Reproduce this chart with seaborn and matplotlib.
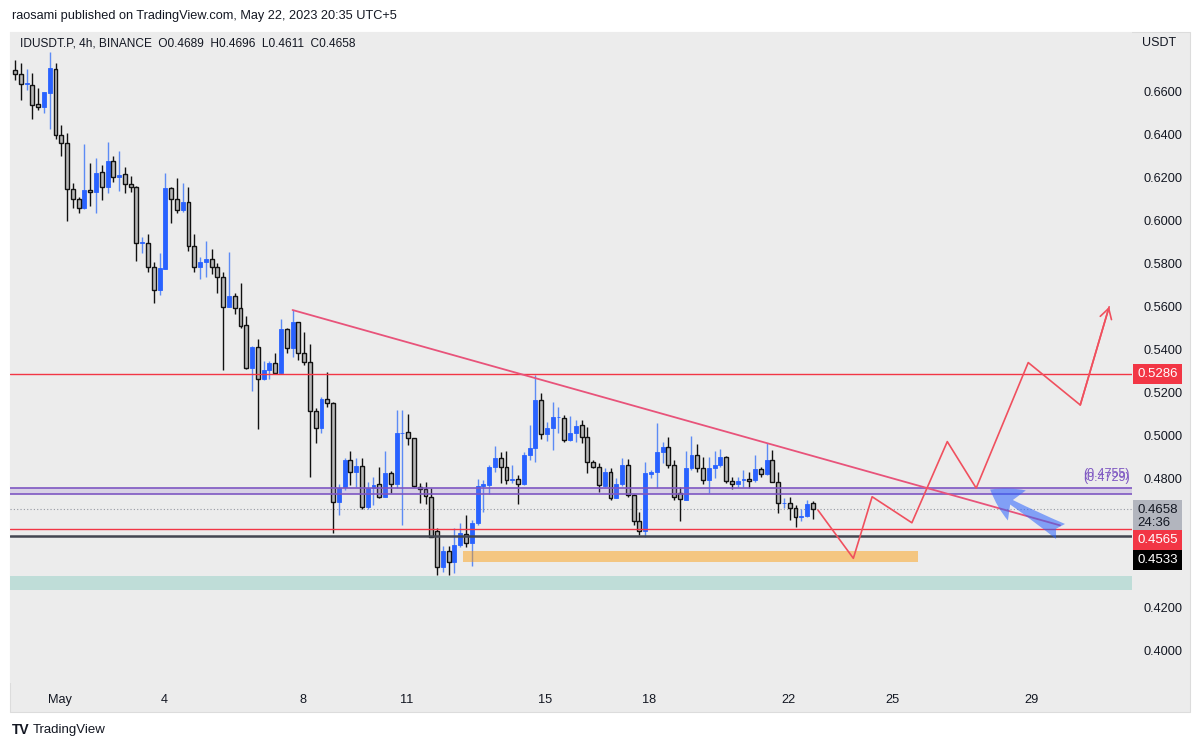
import numpy as np
import pandas as pd
import matplotlib
matplotlib.use("Agg")
import matplotlib.pyplot as plt
import matplotlib.dates as mdates
import matplotlib.transforms as mtrans
from matplotlib.patches import FancyArrowPatch, Rectangle
import seaborn as sns

# ── IDUSDT.P 4h candles ──
LAST_BAR = "2023-05-22 17:00"

OPEN = [0.6697, 0.6677, 0.6631, 0.6628, 0.6538, 0.6527, 0.6589, 0.6702, 0.6396, 0.6357,
        0.6144, 0.6097, 0.6055, 0.6140, 0.6131, 0.6224, 0.6156, 0.6275, 0.6202, 0.6213,
        0.6167, 0.6156, 0.5894, 0.5896, 0.5784, 0.5676, 0.5773, 0.6148, 0.6097, 0.6047,
        0.6083, 0.5882, 0.5784, 0.5805, 0.5821, 0.5784, 0.5738, 0.5598, 0.5648, 0.5591,
        0.5513, 0.5312, 0.5410, 0.5262, 0.5305, 0.5336, 0.5289, 0.5493, 0.5405, 0.5526,
        0.5385, 0.5343, 0.5116, 0.5037, 0.5170, 0.5150, 0.4693, 0.4760, 0.4887, 0.4830,
        0.4859, 0.4670, 0.4755, 0.4774, 0.4716, 0.4825, 0.4774, 0.5011, 0.5015, 0.4987,
        0.4763, 0.4751, 0.4716, 0.4559, 0.4391, 0.4465, 0.4414, 0.4492, 0.4542, 0.4500,
        0.4593, 0.4766, 0.4771, 0.4856, 0.4895, 0.4856, 0.4794, 0.4797, 0.4775, 0.4910,
        0.4941, 0.5165, 0.5007, 0.5037, 0.5084, 0.5080, 0.4980, 0.5014, 0.5049, 0.4995,
        0.4879, 0.4856, 0.4767, 0.4830, 0.4709, 0.4774, 0.4863, 0.4724, 0.4603, 0.4558,
        0.4820, 0.4830, 0.4925, 0.4949, 0.4863, 0.4732, 0.4701, 0.4851, 0.4910, 0.4851,
        0.4794, 0.4851, 0.4863, 0.4899, 0.4790, 0.4774, 0.4792, 0.4797, 0.4794, 0.4843,
        0.4820, 0.4887, 0.4786, 0.4686, 0.4689, 0.4665, 0.4621, 0.4626, 0.4689]
HIGH = [0.6745, 0.6731, 0.6702, 0.6685, 0.6614, 0.6596, 0.6780, 0.6731, 0.6442, 0.6406,
        0.6171, 0.6109, 0.6353, 0.6266, 0.6288, 0.6256, 0.6365, 0.6298, 0.6321, 0.6248,
        0.6205, 0.6160, 0.5924, 0.5935, 0.5807, 0.5849, 0.6218, 0.6156, 0.6196, 0.6173,
        0.6156, 0.5936, 0.5831, 0.5904, 0.5865, 0.5800, 0.5761, 0.5854, 0.5664, 0.5707,
        0.5555, 0.5416, 0.5449, 0.5346, 0.5346, 0.5382, 0.5543, 0.5498, 0.5583, 0.5528,
        0.5480, 0.5425, 0.5127, 0.5181, 0.5294, 0.5155, 0.4774, 0.4896, 0.4929, 0.4895,
        0.4895, 0.4786, 0.4806, 0.4853, 0.4930, 0.4836, 0.5119, 0.5119, 0.5099, 0.4990,
        0.4781, 0.4786, 0.4755, 0.4570, 0.4487, 0.4487, 0.4570, 0.4593, 0.4630, 0.4608,
        0.4797, 0.4794, 0.4863, 0.4952, 0.4925, 0.4929, 0.4863, 0.4817, 0.4922, 0.5049,
        0.5281, 0.5196, 0.5065, 0.5157, 0.5134, 0.5096, 0.5092, 0.5072, 0.5072, 0.5041,
        0.4887, 0.4871, 0.4851, 0.4851, 0.4802, 0.4897, 0.4891, 0.4727, 0.4647, 0.4879,
        0.4840, 0.5057, 0.4972, 0.4995, 0.4887, 0.4763, 0.4930, 0.4998, 0.4961, 0.4899,
        0.4902, 0.4930, 0.4936, 0.4905, 0.4806, 0.4806, 0.4840, 0.4832, 0.4910, 0.4856,
        0.4967, 0.4933, 0.4832, 0.4709, 0.4716, 0.4678, 0.4658, 0.4701, 0.4696]
LOW = [0.6651, 0.6558, 0.6605, 0.6470, 0.6512, 0.6499, 0.6424, 0.6377, 0.6298, 0.5996,
       0.6057, 0.6035, 0.6051, 0.6067, 0.6032, 0.6094, 0.6125, 0.6179, 0.6136, 0.6128,
       0.6132, 0.5811, 0.5846, 0.5761, 0.5614, 0.5653, 0.5772, 0.5989, 0.6033, 0.6040,
       0.5859, 0.5761, 0.5727, 0.5738, 0.5749, 0.5664, 0.5305, 0.5596, 0.5565, 0.5498,
       0.5308, 0.5208, 0.5029, 0.5258, 0.5263, 0.5286, 0.5286, 0.5385, 0.5366, 0.5351,
       0.5328, 0.4809, 0.4964, 0.5011, 0.5132, 0.4546, 0.4631, 0.4747, 0.4771, 0.4763,
       0.4658, 0.4658, 0.4678, 0.4709, 0.4713, 0.4735, 0.4755, 0.4585, 0.4956, 0.4760,
       0.4688, 0.4682, 0.4531, 0.4353, 0.4368, 0.4353, 0.4361, 0.4484, 0.4481, 0.4395,
       0.4585, 0.4647, 0.4729, 0.4832, 0.4778, 0.4775, 0.4778, 0.4681, 0.4771, 0.4887,
       0.4879, 0.4984, 0.4975, 0.4933, 0.5011, 0.4972, 0.4975, 0.4972, 0.4964, 0.4825,
       0.4848, 0.4739, 0.4763, 0.4701, 0.4709, 0.4767, 0.4716, 0.4585, 0.4538, 0.4531,
       0.4802, 0.4755, 0.4871, 0.4851, 0.4701, 0.4605, 0.4701, 0.4840, 0.4832, 0.4774,
       0.4732, 0.4802, 0.4856, 0.4778, 0.4751, 0.4763, 0.4763, 0.4755, 0.4786, 0.4809,
       0.4817, 0.4783, 0.4642, 0.4662, 0.4608, 0.4576, 0.4604, 0.4620, 0.4611]
CLOSE = [0.6677, 0.6631, 0.6635, 0.6535, 0.6526, 0.6594, 0.6705, 0.6396, 0.6357, 0.6144,
         0.6097, 0.6055, 0.6140, 0.6131, 0.6221, 0.6156, 0.6275, 0.6202, 0.6210, 0.6167,
         0.6156, 0.5896, 0.5898, 0.5781, 0.5676, 0.5777, 0.6148, 0.6097, 0.6047, 0.6083,
         0.5882, 0.5784, 0.5805, 0.5821, 0.5781, 0.5735, 0.5598, 0.5648, 0.5591, 0.5510,
         0.5312, 0.5413, 0.5262, 0.5305, 0.5336, 0.5289, 0.5493, 0.5405, 0.5526, 0.5385,
         0.5343, 0.5116, 0.5037, 0.5170, 0.5150, 0.4693, 0.4758, 0.4887, 0.4830, 0.4860,
         0.4670, 0.4755, 0.4771, 0.4716, 0.4825, 0.4774, 0.5013, 0.5014, 0.4987, 0.4766,
         0.4753, 0.4720, 0.4531, 0.4391, 0.4465, 0.4414, 0.4492, 0.4546, 0.4500, 0.4593,
         0.4767, 0.4775, 0.4856, 0.4895, 0.4856, 0.4794, 0.4798, 0.4775, 0.4910, 0.4941,
         0.5165, 0.5007, 0.5037, 0.5088, 0.5086, 0.4980, 0.5014, 0.5046, 0.4995, 0.4876,
         0.4856, 0.4771, 0.4832, 0.4709, 0.4774, 0.4863, 0.4724, 0.4603, 0.4558, 0.4825,
         0.4830, 0.4925, 0.4949, 0.4863, 0.4716, 0.4704, 0.4851, 0.4910, 0.4851, 0.4794,
         0.4851, 0.4863, 0.4899, 0.4790, 0.4774, 0.4790, 0.4796, 0.4791, 0.4843, 0.4820,
         0.4887, 0.4786, 0.4686, 0.4689, 0.4665, 0.4621, 0.4626, 0.4681, 0.4658]

# ── drawings on the chart ──
RESIST = 0.5286
SUPPORT = 0.4565
SUPPORT_BLACK = 0.4533
BAND_LO, BAND_HI = 0.4729, 0.4755
LAST_PRICE = 0.4658

ORANGE_T = ["2023-05-12 15:00", "2023-05-25 18:00"]
ORANGE_LO, ORANGE_HI = 0.4414, 0.4466
TEAL_LO, TEAL_HI = 0.4283, 0.4348

TREND_T = ["2023-05-07 17:00", "2023-05-29 20:00"]
TREND_P = [0.5583, 0.4583]

PATH_T = ["2023-05-22 20:30", "2023-05-23 21:00", "2023-05-24 10:00", "2023-05-25 13:30",
          "2023-05-26 14:00", "2023-05-27 10:00", "2023-05-28 22:00", "2023-05-30 10:00",
          "2023-05-31 06:00"]
PATH_P = [0.4654, 0.4430, 0.4716, 0.4595, 0.4972, 0.4756, 0.5339, 0.5142, 0.5598]

ARROW_T = ["2023-05-29 22:00", "2023-05-27 18:00"]
ARROW_P = [0.4548, 0.4756]

YTICKS = [0.40, 0.42, 0.44, 0.48, 0.50, 0.52, 0.54, 0.56, 0.58, 0.60, 0.62, 0.64, 0.66]
XTICK_DATES = ["2023-05-01", "2023-05-04", "2023-05-08", "2023-05-11", "2023-05-15",
               "2023-05-18", "2023-05-22", "2023-05-25", "2023-05-29"]
XTICK_LABELS = ["May", "4", "8", "11", "15", "18", "22", "25", "29"]

BG = "#ececec"
INK = "#131722"
BULL = "#2962ff"
BULL_WICK = "#5c8bf5"
BEAR = "#b8b8b8"
RED = "#f23645"
PURPLE = "#7e57c2"

W, H = 1200, 748

sns.set_theme(style="white")
plt.rcParams["font.family"] = ["Liberation Sans", "DejaVu Sans"]

fig = plt.figure(figsize=(W / 100, H / 100), dpi=100, facecolor="white")
# grey panel behind chart + scales (pixels -> figure fraction)
fig.add_artist(Rectangle((10 / W, 1 - 712 / H), 1180 / W, 680 / H,
                         transform=fig.transFigure, fc=BG, ec="#dcdcdc", lw=0.8, zorder=0))
ax = fig.add_axes([10 / W, 1 - 683 / H, 1122 / W, 651 / H])
ax.set_facecolor(BG)

t = pd.date_range(end=LAST_BAR, periods=len(OPEN), freq="4h")
x = mdates.date2num(t.to_pydatetime())
o, h, l, c = map(np.array, (OPEN, HIGH, LOW, CLOSE))
up = c >= o
bw = 4 / 24 * 0.68

ax.vlines(x[up], l[up], h[up], color=BULL_WICK, lw=1, zorder=3)
ax.vlines(x[~up], l[~up], h[~up], color="#111111", lw=1, zorder=3)
body = np.maximum(np.abs(c - o), 0.00025)
ax.bar(x[up], body[up], bottom=np.minimum(o, c)[up], width=bw, color=BULL,
       edgecolor=BULL, lw=0.6, zorder=4)
ax.bar(x[~up], body[~up], bottom=np.minimum(o, c)[~up], width=bw, color=BEAR,
       edgecolor="#111111", lw=1.0, zorder=4)

# levels
ax.axhline(RESIST, color=RED, lw=1, zorder=5)
ax.axhspan(BAND_LO, BAND_HI, color="#9575cd", alpha=0.22, lw=0, zorder=5)
ax.axhline(BAND_LO, color=PURPLE, lw=1.2, zorder=5)
ax.axhline(BAND_HI, color=PURPLE, lw=1.2, zorder=5)
ax.axhline(SUPPORT, color=RED, lw=1, zorder=5)
ax.axhline(SUPPORT_BLACK, color="#434651", lw=1.8, zorder=5)
ax.axhline(LAST_PRICE, color="#9598a1", lw=0.8, ls=(0, (1, 2)), zorder=2)
ax.axhspan(TEAL_LO, TEAL_HI, color="#22ab94", alpha=0.22, lw=0, zorder=1)
ot = mdates.date2num(pd.to_datetime(ORANGE_T).to_pydatetime())
ax.fill_between(ot, ORANGE_LO, ORANGE_HI, color="#ff9800", alpha=0.45, lw=0, zorder=5)

# trend line + projected path
trend = pd.DataFrame({"t": mdates.date2num(pd.to_datetime(TREND_T).to_pydatetime()), "p": TREND_P})
sns.lineplot(data=trend, x="t", y="p", color="#e8537a", lw=1.3, ax=ax, zorder=6)
path = pd.DataFrame({"t": mdates.date2num(pd.to_datetime(PATH_T).to_pydatetime()), "p": PATH_P})
sns.lineplot(data=path, x="t", y="p", sort=False, estimator=None, color="#f0505e", lw=1.2,
             ax=ax, zorder=6)
ax.annotate("", xy=(path.t.iloc[-1], path.p.iloc[-1]), xytext=(path.t.iloc[-2], path.p.iloc[-2]),
            arrowprops=dict(arrowstyle="->,head_length=0.6,head_width=0.35", color="#f0505e",
                            lw=1.2, shrinkA=0, shrinkB=0), zorder=6)

at = mdates.date2num(pd.to_datetime(ARROW_T).to_pydatetime())
ax.add_patch(FancyArrowPatch((at[0], ARROW_P[0]), (at[1], ARROW_P[1]),
                             arrowstyle="fancy,head_length=0.8,head_width=0.9,tail_width=0.45",
                             mutation_scale=28, color=BULL, alpha=0.55, lw=0, zorder=7))

# axes limits / ticks
ax.set_xlim(x[0] - 3.5 / 24, x[-1] + 220.8 / 24)
ax.set_ylim(0.3851, 0.6874)
ax.set_xlabel("")
ax.set_ylabel("")
for s in ax.spines.values():
    s.set_visible(False)
ax.yaxis.tick_right()
ax.set_yticks(YTICKS)
ax.set_yticklabels([f"{v:.4f}" for v in YTICKS])
ax.set_xticks(mdates.date2num(pd.to_datetime(XTICK_DATES).to_pydatetime()))
ax.set_xticklabels(XTICK_LABELS)
ax.tick_params(axis="y", length=0, pad=8, labelsize=9.2, labelcolor=INK)
ax.tick_params(axis="x", length=0, pad=8, labelsize=9.2, labelcolor=INK)
ax.grid(False)

# price labels on the scale
tr = mtrans.blended_transform_factory(ax.transAxes, ax.transData)
def scale_tag(txt, price, dy, fc, tc):
    ax.annotate(txt, xy=(1, price), xycoords=tr, xytext=(5, dy), textcoords="offset pixels",
                va="center", ha="left", fontsize=9.5, color=tc, zorder=20, annotation_clip=False,
                linespacing=1.1, bbox=dict(boxstyle="square,pad=0.32", fc=fc, ec="none"))

scale_tag("0.5286", RESIST, 0, RED, "white")
scale_tag("0.4658\n24:36", LAST_PRICE, -7, "#b2b5be", INK)
scale_tag("0.4565", SUPPORT, -11, RED, "white")
scale_tag("0.4533", SUPPORT_BLACK, -24, "black", "white")
ax.annotate("(0.4755)", xy=(1, BAND_HI), xycoords=tr, xytext=(-2, 8), textcoords="offset pixels",
            ha="right", va="bottom", fontsize=9, color=PURPLE, annotation_clip=False, zorder=8)
ax.annotate("(0.4729)", xy=(1, BAND_LO), xycoords=tr, xytext=(-2, 10), textcoords="offset pixels",
            ha="right", va="bottom", fontsize=9, color=PURPLE, annotation_clip=False, zorder=8)

# header / footer text
fig.text(12 / W, 1 - 16 / H, "raosami published on TradingView.com, May 22, 2023 20:35 UTC+5",
         fontsize=9.2, color=INK, va="center")
fig.text(20 / W, 1 - 43 / H, "IDUSDT.P, 4h, BINANCE  O0.4689  H0.4696  L0.4611  C0.4658",
         fontsize=8.6, color=INK, va="center")
fig.text(1142 / W, 1 - 43 / H, "USDT", fontsize=9, color=INK, va="center")
fig.text(12 / W, 1 - 730 / H, "TV", fontsize=10, fontweight="heavy", color=INK, va="center")
fig.text(33 / W, 1 - 730 / H, "TradingView", fontsize=9.5, color=INK, va="center")

fig.savefig("out.png", dpi=100, facecolor="white")
